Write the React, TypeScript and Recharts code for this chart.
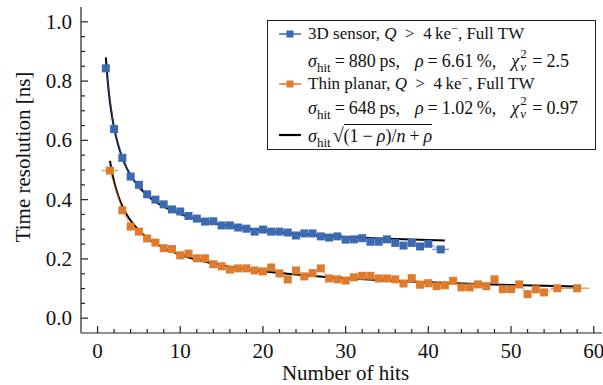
import React from 'react';
import { ComposedChart, Scatter, Line, XAxis, YAxis, ErrorBar, Legend } from 'recharts';

// 3D sensor, Q > 4 ke-, Full TW
const blueHits = [1, 2, 3, 4, 5, 6, 7, 8, 9, 10, 11, 12, 13, 14, 15, 16, 17, 18, 19, 20, 21, 22, 23, 24, 25, 26, 27, 28, 29, 30, 31, 32, 33, 34, 35, 36, 37, 38, 39, 40, 41.5];
const blueRes = [0.843, 0.638, 0.541, 0.478, 0.45, 0.418, 0.4, 0.384, 0.367, 0.36, 0.345, 0.336, 0.326, 0.327, 0.313, 0.313, 0.306, 0.302, 0.292, 0.299, 0.292, 0.292, 0.289, 0.279, 0.286, 0.286, 0.276, 0.272, 0.276, 0.265, 0.266, 0.27, 0.258, 0.258, 0.266, 0.254, 0.245, 0.254, 0.242, 0.251, 0.232];
const blueHitErr = [0, 0, 0, 0, 0, 0, 0, 0, 0, 0, 0, 0, 0, 0, 0, 0, 0, 0, 0, 0, 0, 0, 0, 0, 0, 0, 0, 0, 0, 0, 0, 0, 0, 0, 0, 0, 0, 0, 0, 0, 1];

// Thin planar, Q > 4 ke-, Full TW
const orangeHits = [1.5, 3, 4, 5, 6, 7, 8, 9, 10, 11, 12, 13, 14, 15, 16, 17, 18, 19, 20, 21, 22, 23, 24, 25, 26, 27, 28, 29, 30, 31, 32, 33, 34, 35, 36, 37, 38, 39, 40, 41, 42, 43, 44, 45, 46, 47, 48, 49, 50, 51, 52, 53, 54, 55.6, 58];
const orangeRes = [0.498, 0.364, 0.309, 0.292, 0.269, 0.255, 0.236, 0.233, 0.212, 0.218, 0.202, 0.202, 0.182, 0.175, 0.164, 0.168, 0.168, 0.161, 0.158, 0.171, 0.151, 0.131, 0.161, 0.141, 0.152, 0.168, 0.134, 0.131, 0.127, 0.138, 0.143, 0.143, 0.134, 0.134, 0.131, 0.117, 0.135, 0.113, 0.118, 0.108, 0.111, 0.126, 0.104, 0.104, 0.114, 0.108, 0.131, 0.098, 0.098, 0.114, 0.081, 0.097, 0.087, 0.101, 0.101];
const orangeHitErr = [1, 0, 0, 0, 0, 0, 0, 0, 0, 0, 0, 0, 0, 0, 0, 0, 0, 0, 0, 0, 0, 0, 0, 0, 0, 0, 0, 0, 0, 0, 0, 0, 0, 0, 0, 0, 0, 0, 0, 0, 0, 0, 0, 0, 0, 0, 0, 0, 0, 0, 0, 0, 0, 0.8, 1.5];
const orangeResErr = [0.01, 0.005, 0.005, 0.005, 0.005, 0.005, 0.005, 0.005, 0.005, 0.005, 0.005, 0.005, 0.005, 0.005, 0.005, 0.005, 0.006, 0.006, 0.006, 0.006, 0.006, 0.006, 0.006, 0.006, 0.006, 0.006, 0.007, 0.007, 0.007, 0.007, 0.007, 0.007, 0.008, 0.008, 0.008, 0.008, 0.008, 0.008, 0.009, 0.009, 0.009, 0.009, 0.01, 0.01, 0.01, 0.01, 0.01, 0.011, 0.011, 0.011, 0.012, 0.012, 0.012, 0.01, 0.008];

// fit curves
const blueFitHits = [1, 1.25, 1.5, 1.75, 2, 2.5, 3, 3.5, 4, 5, 6, 7, 8, 10, 12, 15, 20, 25, 30, 35, 42];
const blueFitRes = [0.88, 0.794, 0.73, 0.682, 0.643, 0.584, 0.541, 0.508, 0.482, 0.443, 0.414, 0.393, 0.376, 0.351, 0.334, 0.315, 0.296, 0.283, 0.274, 0.268, 0.262];
const orangeFitHits = [1.5, 1.75, 2, 2.5, 3, 3.5, 4, 5, 6, 7, 8, 10, 12, 15, 20, 25, 30, 35, 40, 45, 50, 58];
const orangeFitRes = [0.531, 0.492, 0.461, 0.413, 0.378, 0.351, 0.329, 0.296, 0.271, 0.252, 0.237, 0.214, 0.197, 0.179, 0.158, 0.145, 0.135, 0.127, 0.121, 0.116, 0.112, 0.107];

const xTicks = [0, 2, 4, 6, 8, 10, 12, 14, 16, 18, 20, 22, 24, 26, 28, 30, 32, 34, 36, 38, 40, 42, 44, 46, 48, 50, 52, 54, 56, 58, 60];
const xMajor = [0, 10, 20, 30, 40, 50, 60];
const yTicks = [0, 0.05, 0.1, 0.15, 0.2, 0.25, 0.3, 0.35, 0.4, 0.45, 0.5, 0.55, 0.6, 0.65, 0.7, 0.75, 0.8, 0.85, 0.9, 0.95, 1.0];
const yMajor = [0, 0.2, 0.4, 0.6, 0.8, 1.0];

const BLUE = '#3b69b2';
const ORANGE = '#de7b2c';
const AXIS = '#222';
const SERIF = '"Liberation Serif", "Times New Roman", serif';

const blueData = blueHits.map((x, i) => ({ x, y: blueRes[i], xe: blueHitErr[i] }));
const orangeData = orangeHits.map((x, i) => ({ x, y: orangeRes[i], xe: orangeHitErr[i], ye: orangeResErr[i] }));
const blueFit = blueFitHits.map((x, i) => ({ x, y: blueFitRes[i] }));
const orangeFit = orangeFitHits.map((x, i) => ({ x, y: orangeFitRes[i] }));

const isMajor = (list: number[], v: number) => list.some((m) => Math.abs(m - v) < 1e-6);

const BottomTick = (props: any) => {
  const { x, y, payload } = props;
  const major = isMajor(xMajor, payload.value);
  return (
    <g>
      <line x1={x} x2={x} y1={y} y2={y - (major ? 7 : 4)} stroke={AXIS} strokeWidth={1.2} />
      {major && (
        <text x={x} y={y + 25} textAnchor="middle" fontFamily={SERIF} fontSize={21} fill="#111">
          {payload.value}
        </text>
      )}
    </g>
  );
};

const TopTick = (props: any) => {
  const { x, y, payload } = props;
  const major = isMajor(xMajor, payload.value);
  return <line x1={x} x2={x} y1={y} y2={y + (major ? 7 : 4)} stroke={AXIS} strokeWidth={1.2} />;
};

const LeftTick = (props: any) => {
  const { x, y, payload } = props;
  const major = isMajor(yMajor, payload.value);
  return (
    <g>
      <line x1={x} x2={x + (major ? 7 : 4)} y1={y} y2={y} stroke={AXIS} strokeWidth={1.2} />
      {major && (
        <text x={x - 9} y={y + 7} textAnchor="end" fontFamily={SERIF} fontSize={21} fill="#111">
          {payload.value.toFixed(1)}
        </text>
      )}
    </g>
  );
};

const RightTick = (props: any) => {
  const { x, y, payload } = props;
  const major = isMajor(yMajor, payload.value);
  return <line x1={x} x2={x - (major ? 7 : 4)} y1={y} y2={y} stroke={AXIS} strokeWidth={1.2} />;
};

const YLabel = () => (
  <text transform="translate(30,157) rotate(-90)" textAnchor="middle" fontFamily={SERIF} fontSize={21} fill="#111">
    Time resolution [ns]
  </text>
);

const square = (color: string) => (props: any) => {
  const { cx, cy } = props;
  return <rect x={cx - 4} y={cy - 4} width={8} height={8} fill={color} />;
};

const Sample = ({ color, marker }: { color: string; marker: boolean }) => (
  <svg width={22} height={10} style={{ position: 'absolute', left: 11, top: -5 }}>
    <line x1={0} x2={22} y1={5} y2={5} stroke={color} strokeWidth={marker ? 1.5 : 2.2} />
    {marker && <rect x={7.5} y={1.5} width={7} height={7} fill={color} />}
  </svg>
);

// small raised / lowered pieces that do not disturb the line box
const Shift = ({ dy, size = 12, children }: { dy: number; size?: number; children: React.ReactNode }) => (
  <span style={{ position: 'relative', top: dy, fontSize: size, lineHeight: 0 }}>{children}</span>
);

const Gap = ({ w }: { w: number }) => <span style={{ display: 'inline-block', width: w }} />;

const Eq = ({ sym = '=' }: { sym?: string }) => (
  <>
    <Gap w={4} />
    {sym}
    <Gap w={4} />
  </>
);

const ChiNu = () => (
  <span style={{ position: 'relative', display: 'inline-block', width: 8, height: 1, margin: '0 0 0 1px' }}>
    <span style={{ position: 'absolute', left: 0, top: -16, fontSize: 13, lineHeight: '8px' }}>2</span>
    <span style={{ position: 'absolute', left: 0, top: -3, fontSize: 13, lineHeight: '8px', fontStyle: 'italic' }}>ν</span>
  </span>
);

const Hit = () => <Shift dy={5} size={13}>hit</Shift>;

const LegendBox = () => {
  const row = (center: number, children: React.ReactNode, sample?: React.ReactNode, size = 17) => (
    <div style={{ position: 'absolute', left: 0, top: center, width: '100%' }}>
      {sample}
      <div style={{ position: 'absolute', left: 40, top: -9, height: 18, lineHeight: '18px', whiteSpace: 'nowrap', fontSize: size }}>{children}</div>
    </div>
  );
  return (
    <div
      style={{
        position: 'relative',
        width: 329,
        height: 130,
        boxSizing: 'border-box',
        border: '1.2px solid #222',
        background: '#fff',
        fontFamily: SERIF,
        fontSize: 17,
        color: '#111',
      }}
    >
      {row(13, <>3D sensor, <i>Q</i>&nbsp; &gt; &nbsp;4&thinsp;ke<Shift dy={-7}>−</Shift>, Full TW</>, <Sample color={BLUE} marker />)}
      {row(
        40,
        <>
          <i>σ</i><Hit /><Eq />880&thinsp;ps,<Gap w={15} /><i>ρ</i><Eq />6.61&thinsp;%,<Gap w={15} /><i>χ</i><ChiNu /><Eq />2.5
        </>,
        undefined,
        18,
      )}
      {row(63, <>Thin planar, <i>Q</i>&nbsp; &gt; &nbsp;4&thinsp;ke<Shift dy={-7}>−</Shift>, Full TW</>, <Sample color={ORANGE} marker />)}
      {row(
        87,
        <>
          <i>σ</i><Hit /><Eq />648&thinsp;ps,<Gap w={15} /><i>ρ</i><Eq />1.02&thinsp;%,<Gap w={15} /><i>χ</i><ChiNu /><Eq />0.97
        </>,
        undefined,
        18,
      )}
      {row(
        114,
        <>
          <i>σ</i><Hit />
          <span style={{ marginLeft: 2, fontSize: 20 }}>√</span>
          <span style={{ borderTop: '1px solid #111', paddingTop: 1 }}>
            (1<Eq sym="−" /><i>ρ</i>)/<i>n</i><Eq sym="+" /><i>ρ</i>
          </span>
        </>,
        <Sample color="#000" marker={false} />,
        18,
      )}
    </div>
  );
};

export default function App() {
  return (
    <div style={{ position: 'absolute', left: 0, top: 0, width: 603, height: 385, background: '#fff' }}>
      <ComposedChart width={603} height={385} margin={{ top: 7, right: 1, left: 21, bottom: 0 }}>
        <XAxis
          xAxisId="bottom"
          dataKey="x"
          type="number"
          domain={[-2, 61]}
          allowDataOverflow
          ticks={xTicks}
          interval={0}
          tick={BottomTick}
          tickLine={false}
          tickSize={0}
          tickMargin={0}
          height={52}
          stroke={AXIS}
          strokeWidth={1.2}
          label={{ value: 'Number of hits', position: 'insideBottom', offset: 5, fontFamily: SERIF, fontSize: 21, fill: '#111', dx: 4 }}
        />
        <XAxis
          xAxisId="top"
          orientation="top"
          dataKey="x"
          type="number"
          domain={[-2, 61]}
          allowDataOverflow
          ticks={xTicks}
          interval={0}
          tick={TopTick}
          tickLine={false}
          tickSize={0}
          tickMargin={0}
          height={0}
          stroke={AXIS}
          strokeWidth={1.2}
        />
        <YAxis
          yAxisId="left"
          type="number"
          domain={[-0.05, 1.05]}
          allowDataOverflow
          ticks={yTicks}
          interval={0}
          tick={LeftTick}
          tickLine={false}
          tickSize={0}
          tickMargin={0}
          width={60}
          stroke={AXIS}
          strokeWidth={1.2}
          label={{ content: YLabel }}
        />
        <YAxis
          yAxisId="right"
          orientation="right"
          type="number"
          domain={[-0.05, 1.05]}
          allowDataOverflow
          ticks={yTicks}
          interval={0}
          tick={RightTick}
          tickLine={false}
          tickSize={0}
          tickMargin={0}
          width={0}
          stroke={AXIS}
          strokeWidth={1.2}
        />
        <Scatter
          name="3D sensor"
          data={blueData}
          dataKey="y"
          xAxisId="bottom"
          yAxisId="left"
          fill={BLUE}
          line={{ stroke: BLUE, strokeWidth: 1.2, strokeOpacity: 0.55 }}
          shape={square(BLUE)}
          isAnimationActive={false}
        >
          <ErrorBar dataKey="xe" direction="x" width={0} stroke={BLUE} strokeWidth={1.5} strokeOpacity={0.7} />
        </Scatter>
        <Scatter
          name="Thin planar"
          data={orangeData}
          dataKey="y"
          xAxisId="bottom"
          yAxisId="left"
          fill={ORANGE}
          line={{ stroke: ORANGE, strokeWidth: 1.2, strokeOpacity: 0.55 }}
          shape={square(ORANGE)}
          isAnimationActive={false}
        >
          <ErrorBar dataKey="xe" direction="x" width={0} stroke={ORANGE} strokeWidth={1.5} strokeOpacity={0.7} />
          <ErrorBar dataKey="ye" direction="y" width={0} stroke={ORANGE} strokeWidth={1.2} strokeOpacity={0.7} />
        </Scatter>
        <Line data={blueFit} dataKey="y" xAxisId="bottom" yAxisId="left" type="monotone" stroke="#000" strokeWidth={2} dot={false} isAnimationActive={false} />
        <Line data={orangeFit} dataKey="y" xAxisId="bottom" yAxisId="left" type="monotone" stroke="#000" strokeWidth={2} dot={false} isAnimationActive={false} />
        <Legend
          layout="vertical"
          align="center"
          verticalAlign="middle"
          wrapperStyle={{ left: 267, top: 20, width: 329, height: 130 }}
          content={() => <LegendBox />}
        />
      </ComposedChart>
    </div>
  );
}
